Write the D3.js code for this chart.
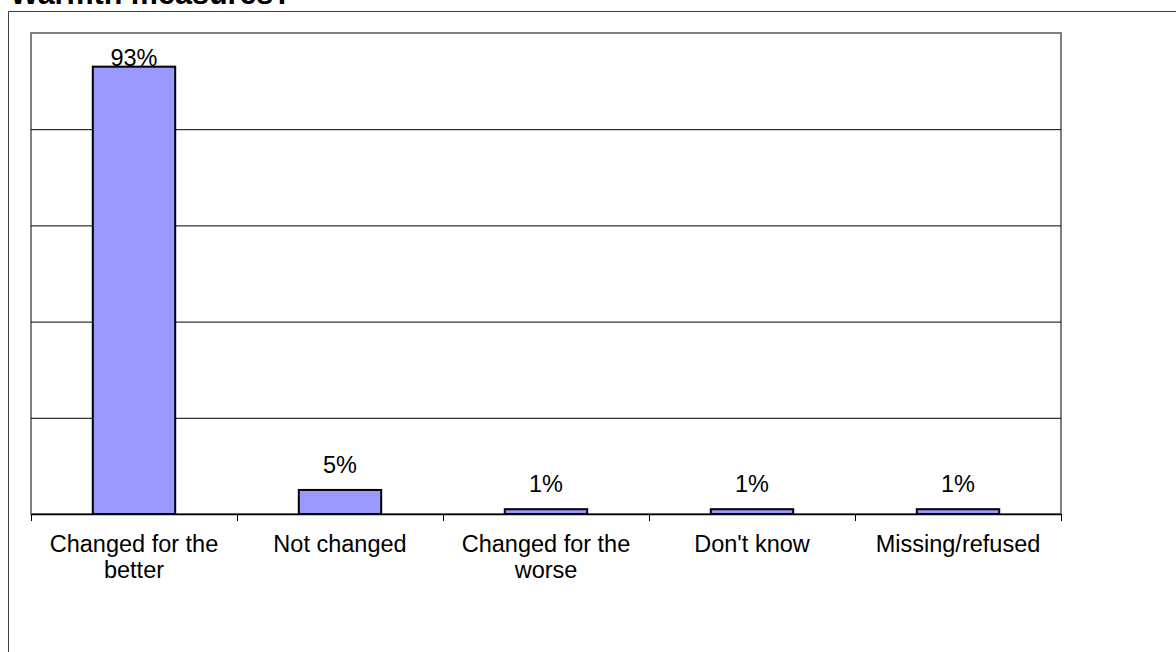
<!DOCTYPE html>
<html>
<head>
<meta charset="utf-8">
<script src="https://cdn.jsdelivr.net/npm/d3@7"></script>
<style>
  html, body { margin: 0; padding: 0; background: #fff; overflow: hidden; }
  svg { display: block; font-family: Arial, "Liberation Sans", sans-serif; }
</style>
</head>
<body>
<svg id="chart" width="1176" height="652"></svg>
<script>
// Survey answers and their shares (percent)
const titleText = "Warmth measures?";
const categories = [
  ["Changed for the", "better"],
  ["Not changed"],
  ["Changed for the", "worse"],
  ["Don't know"],
  ["Missing/refused"]
];
const values = [93, 5, 1, 1, 1];
const valueLabels = ["93%", "5%", "1%", "1%", "1%"];
const gridTicks = [20, 40, 60, 80];

const svg = d3.select("#chart");
const W = 1176, H = 652;
const plot = { left: 31, right: 1061, top: 33, bottom: 514 };
const fontSize = 23.5;

// Outer chart frame (runs off the right and bottom edges)
svg.append("path")
  .attr("d", `M8.5,${H} V11.5 H${W}`)
  .attr("fill", "none")
  .attr("stroke", "#404040")
  .attr("stroke-width", 1);

// Title, partly above the top edge
svg.append("text")
  .attr("x", 10).attr("y", 4)
  .attr("font-size", 30.5)
  .attr("font-weight", "bold")
  .attr("fill", "#000")
  .text(titleText);

const keys = categories.map((c, i) => i);
const x = d3.scaleBand()
  .domain(keys)
  .range([plot.left, plot.right])
  .paddingInner(0.6)
  .paddingOuter(0.3);

const y = d3.scaleLinear().domain([0, 100]).range([plot.bottom, plot.top]);

// Plot area border
svg.append("rect")
  .attr("x", plot.left).attr("y", plot.top)
  .attr("width", plot.right - plot.left)
  .attr("height", plot.bottom - plot.top)
  .attr("fill", "#fff")
  .attr("stroke", "#808080")
  .attr("stroke-width", 2);

// Horizontal gridlines
const grid = svg.append("g")
  .attr("transform", `translate(${plot.left},0)`)
  .call(d3.axisLeft(y).tickValues(gridTicks).tickSize(-(plot.right - plot.left)).tickFormat(""));
grid.select(".domain").remove();
grid.selectAll(".tick line").attr("stroke", "#000").attr("stroke-width", 1);

// Category axis with tick marks at category boundaries
const xb = d3.scaleLinear().domain([0, categories.length]).range([plot.left, plot.right]);
const xAxis = svg.append("g")
  .attr("transform", `translate(0,${plot.bottom})`)
  .call(d3.axisBottom(xb).ticks(categories.length).tickSize(7).tickSizeOuter(0).tickFormat(""));
xAxis.select(".domain").attr("stroke", "#000").attr("stroke-width", 1.5);
xAxis.selectAll(".tick line").attr("stroke", "#000").attr("stroke-width", 1);

// Bars
svg.append("g").selectAll("rect")
  .data(values)
  .join("rect")
  .attr("x", (d, i) => x(i))
  .attr("y", d => y(d))
  .attr("width", x.bandwidth())
  .attr("height", d => y(0) - y(d))
  .attr("fill", "#9999FF")
  .attr("stroke", "#000")
  .attr("stroke-width", 2);

// Value labels above each bar; kept inside the plot area when the bar is tall
svg.append("g").selectAll("text")
  .data(values)
  .join("text")
  .attr("x", (d, i) => x(i) + x.bandwidth() / 2)
  .attr("y", d => {
    const yy = y(d) - 17;
    return (yy - fontSize * 0.72 < plot.top + 2) ? y(d) - 1 : yy;
  })
  .attr("text-anchor", "middle")
  .attr("font-size", fontSize)
  .attr("fill", "#000")
  .text((d, i) => valueLabels[i]);

// Category labels (wrapped onto two lines where needed)
const labels = svg.append("g").selectAll("text")
  .data(categories)
  .join("text")
  .attr("text-anchor", "middle")
  .attr("font-size", fontSize)
  .attr("fill", "#000");
labels.each(function(lines, i) {
  const t = d3.select(this);
  lines.forEach((ln, j) => {
    t.append("tspan")
      .attr("x", x(i) + x.bandwidth() / 2)
      .attr("y", 552 + j * 25.5)
      .text(ln);
  });
});
</script>
</body>
</html>
